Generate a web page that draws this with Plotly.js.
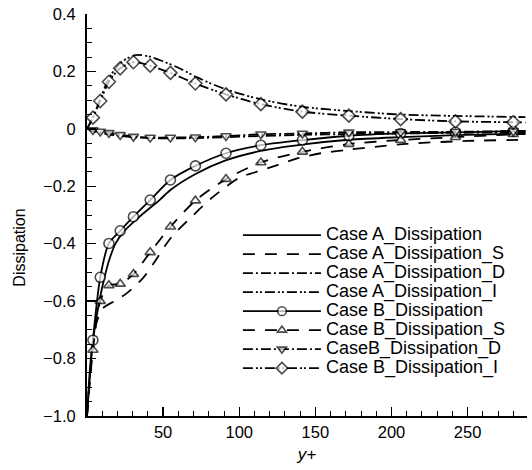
<!DOCTYPE html>
<html>
<head>
<meta charset="utf-8">
<script src="https://cdn.plot.ly/plotly-3.0.1.min.js"></script>
<style>html,body{margin:0;padding:0;background:#fff;}#chart{width:532px;height:470px;}</style>
</head>
<body>
<div id="chart"></div>
<script>
// ---- Data ----
const seriesNames = [
  'Case A_Dissipation', 'Case A_Dissipation_S', 'Case A_Dissipation_D', 'Case A_Dissipation_I',
  'Case B_Dissipation', 'Case B_Dissipation_S', 'CaseB_Dissipation_D', 'Case B_Dissipation_I'
];

const caseA_diss_x = [0, 2.5, 5.5, 8.5, 11.5, 15, 18.8, 24.6, 34.5, 47.6, 55, 71, 91, 114, 141, 172, 206, 242, 288];
const caseA_diss_y = [-1.0, -0.80, -0.68, -0.59, -0.517, -0.45, -0.399, -0.355, -0.306, -0.248, -0.212, -0.158, -0.11, -0.077, -0.055, -0.038, -0.029, -0.022, -0.016];

const caseA_S_x = [0, 3, 6, 10.5, 18, 26, 36.7, 44.8, 55, 68.8, 81.6, 100, 110, 125, 138, 153.5, 171, 190.7, 210, 250, 288];
const caseA_S_y = [-1.0, -0.80, -0.68, -0.625, -0.60, -0.573, -0.52, -0.46, -0.38, -0.306, -0.242, -0.17, -0.152, -0.126, -0.103, -0.085, -0.073, -0.062, -0.052, -0.042, -0.038];

const caseA_D_x = [0, 3, 8, 14, 22, 30, 41, 55, 72, 91, 114, 141, 172, 206, 242, 288];
const caseA_D_y = [0, -0.006, -0.013, -0.019, -0.025, -0.029, -0.032, -0.033, -0.032, -0.029, -0.025, -0.021, -0.018, -0.016, -0.014, -0.012];

const caseA_I_x = [0, 2, 4, 8, 13, 18, 24, 32, 40, 50, 60, 72, 90, 114, 141, 172, 206, 242, 288];
const caseA_I_y = [0, 0.02, 0.042, 0.095, 0.16, 0.205, 0.238, 0.257, 0.253, 0.235, 0.213, 0.18, 0.14, 0.103, 0.077, 0.062, 0.05, 0.045, 0.041];

const caseB_x = [0, 3.9, 8.7, 14.4, 21.8, 30.5, 41.5, 54.8, 71.2, 91.3, 114.2, 141.5, 172, 206, 242, 280, 288];
const caseB_diss_y = [-1.0, -0.736, -0.517, -0.399, -0.355, -0.306, -0.248, -0.178, -0.129, -0.085, -0.057, -0.039, -0.024, -0.016, -0.012, -0.008, -0.007];
const caseB_S_y = [-1.0, -0.77, -0.60, -0.545, -0.54, -0.506, -0.43, -0.341, -0.25, -0.175, -0.117, -0.080, -0.053, -0.039, -0.029, -0.019, -0.018];
const caseB_D_y = [0, -0.004, -0.009, -0.014, -0.021, -0.027, -0.030, -0.030, -0.029, -0.025, -0.019, -0.016, -0.012, -0.011, -0.010, -0.008, -0.008];
const caseB_I_y = [0, 0.039, 0.097, 0.164, 0.211, 0.232, 0.220, 0.195, 0.158, 0.120, 0.086, 0.060, 0.046, 0.034, 0.026, 0.023, 0.022];

const xTickVals = [50, 100, 150, 200, 250];
const yTickVals = [0.4, 0.2, 0, -0.2, -0.4, -0.6, -0.8, -1.0];
const yTickText = ['0.4', '0.2', '0', '\u22120.2', '\u22120.4', '\u22120.6', '\u22120.8', '\u22121.0'];
const xTitle = '<i>y+</i>';
const yTitle = 'Dissipation';

// ---- Styles ----
const FONT = 'Liberation Sans, Arial, Helvetica, sans-serif';
const DASH_S = '12px,10px';
const DASH_D = '10px,3px,2px,3px';
const DASH_I = '10px,3px,2px,2px,2px,3px';
const LW = 1.8;
// markers shown on every B point except the wall point and the final end point
function sizes(s) { return caseB_x.map((v, i) => (i === 0 || i === caseB_x.length - 1) ? 0 : s); }

function lab(t) { return '<span style="font-size:18px">' + t + '</span>'; }

function lineTrace(x, y, name, dash) {
  return { x: x, y: y, name: lab(name), type: 'scatter', mode: 'lines',
    line: { color: '#000', width: LW, dash: dash, shape: 'spline', smoothing: 0.8 } };
}
function markTrace(x, y, name, dash, symbol, s) {
  return { x: x, y: y, name: lab(name), type: 'scatter', mode: 'lines+markers',
    line: { color: '#000', width: LW, dash: dash, shape: 'spline', smoothing: 0.8 },
    marker: { symbol: symbol, size: sizes(s), color: '#fff', line: { color: '#000', width: 1.6 } } };
}

const data = [
  lineTrace(caseA_diss_x, caseA_diss_y, seriesNames[0], 'solid'),
  lineTrace(caseA_S_x, caseA_S_y, seriesNames[1], DASH_S),
  lineTrace(caseA_D_x, caseA_D_y, seriesNames[2], DASH_D),
  lineTrace(caseA_I_x, caseA_I_y, seriesNames[3], DASH_I),
  markTrace(caseB_x, caseB_diss_y, seriesNames[4], 'solid', 'circle', 10),
  markTrace(caseB_x, caseB_S_y, seriesNames[5], DASH_S, 'triangle-up', 9),
  markTrace(caseB_x, caseB_D_y, seriesNames[6], DASH_D, 'triangle-down', 9),
  markTrace(caseB_x, caseB_I_y, seriesNames[7], DASH_I, 'diamond', 10)
];

const axisCommon = {
  showline: true, linecolor: '#000', linewidth: 2,
  ticks: 'inside', ticklen: 9, tickwidth: 1.5, tickcolor: '#000',
  showgrid: false, zeroline: false,
  tickfont: { family: FONT, size: 16.5, color: '#000' }
};

const layout = {
  width: 532, height: 470,
  margin: { l: 87, r: 5, t: 14, b: 54 },
  paper_bgcolor: '#fff', plot_bgcolor: '#fff',
  font: { family: FONT, color: '#000' },
  showlegend: true,
  legend: { x: 0.343, y: 0.486, xanchor: 'left', yanchor: 'top',
    font: { family: FONT, size: 12, color: '#000' },
    itemwidth: 78, bgcolor: 'rgba(0,0,0,0)', borderwidth: 0, tracegroupgap: 0 },
  xaxis: Object.assign({}, axisCommon, {
    range: [0, 289], tickmode: 'array', tickvals: xTickVals, ticklabelstandoff: 0,
    minor: { tick0: 0, dtick: 10, ticks: 'inside', ticklen: 5, tickwidth: 1, tickcolor: '#000' },
    title: { text: xTitle, font: { family: FONT, size: 17, color: '#000' }, standoff: 8 }
  }),
  yaxis: Object.assign({}, axisCommon, {
    range: [-1.0, 0.4], tickmode: 'array', tickvals: yTickVals, ticktext: yTickText, ticklabelstandoff: 6,
    minor: { tick0: 0, dtick: 0.05, ticks: 'inside', ticklen: 5, tickwidth: 1, tickcolor: '#000' },
    title: { text: '' }
  }),
  annotations: [{
    text: yTitle, xref: 'paper', yref: 'paper', x: -0.153, y: 0.418,
    xanchor: 'center', yanchor: 'middle', textangle: -90, showarrow: false,
    font: { family: FONT, size: 16, color: '#000' }
  }]
};

Plotly.newPlot('chart', data, layout, { staticPlot: true, displayModeBar: false });
</script>
</body>
</html>
